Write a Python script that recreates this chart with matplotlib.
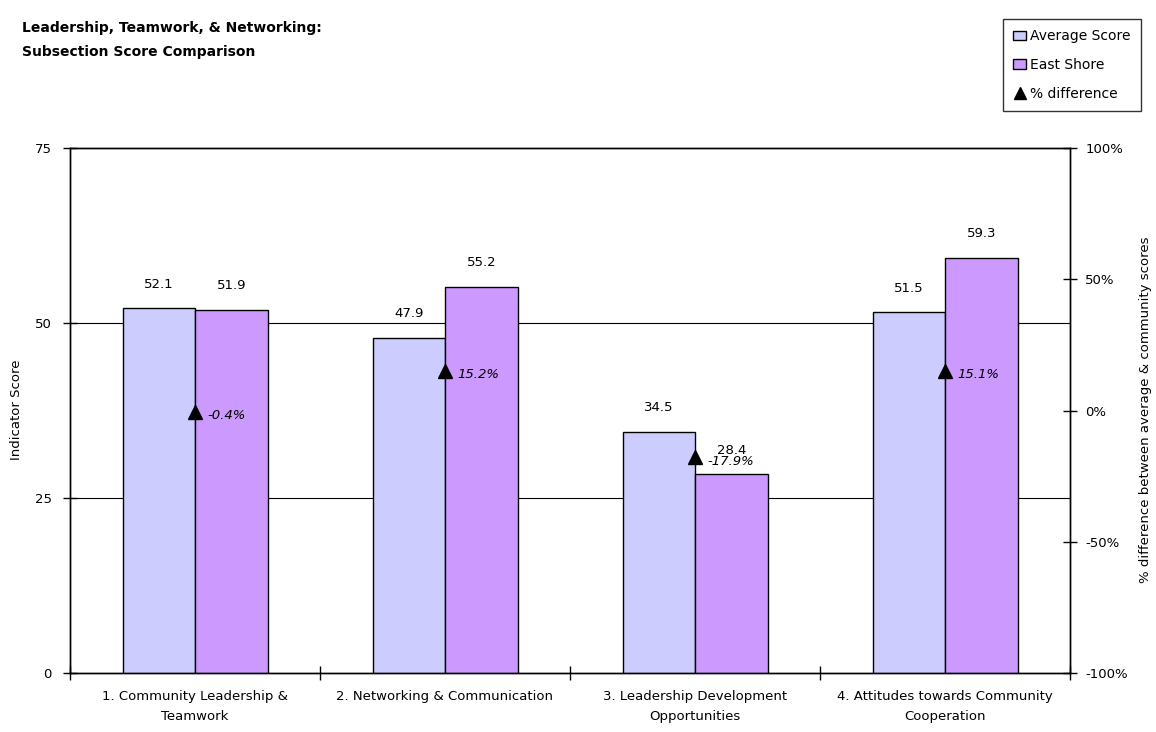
import numpy as np
import matplotlib.pyplot as plt
from matplotlib.patches import Patch
from matplotlib.lines import Line2D

categories = ['1. Community Leadership &\nTeamwork', '2. Networking & Communication',
              '3. Leadership Development\nOpportunities', '4. Attitudes towards Community\nCooperation']
average_score = [52.1, 47.9, 34.5, 51.5]
east_shore = [51.9, 55.2, 28.4, 59.3]
pct_diff = [-0.4, 15.2, -17.9, 15.1]

plt.rcParams['font.family'] = 'DejaVu Sans'
plt.rcParams['font.size'] = 9

fig = plt.figure(figsize=(11.56, 7.32), dpi=100)
ax = fig.add_axes([70 / 1156, 1 - 673 / 732, 1000 / 1156, 525 / 732])

x = np.arange(len(categories))
w = 0.29
avg_color = '#CCCCFF'
es_color = '#CC99FF'

ax.bar(x - w / 2, average_score, w, color=avg_color, edgecolor='black', linewidth=1, zorder=3)
ax.bar(x + w / 2, east_shore, w, color=es_color, edgecolor='black', linewidth=1, zorder=3)

for i in range(len(categories)):
    ax.text(x[i] - w / 2, average_score[i] + 2.5, f'{average_score[i]:.1f}', ha='center', va='bottom', fontsize=9.5, zorder=5)
    ax.text(x[i] + w / 2, east_shore[i] + 2.5, f'{east_shore[i]:.1f}', ha='center', va='bottom', fontsize=9.5, zorder=5)

ax.set_xlim(-0.5, 3.5)
ax.set_ylim(0, 75)
ax.set_yticks([0, 25, 50, 75])
ax.set_xticks([-0.5, 0.5, 1.5, 2.5, 3.5])
ax.set_xticklabels([])
ax.set_xticks(x, minor=True)
ax.set_xticklabels(categories, minor=True, fontsize=9.5, linespacing=1.7)
ax.tick_params(axis='x', which='minor', length=0, pad=12)
ax.tick_params(axis='x', which='major', direction='inout', length=10, width=1)
ax.tick_params(axis='y', direction='inout', length=10, width=1, labelsize=9.5, pad=8)
for y in [25, 50]:
    ax.axhline(y, color='black', linewidth=0.8, zorder=1)
for s in ax.spines.values():
    s.set_linewidth(1)

ax2 = ax.twinx()
ax2.set_ylim(-100, 100)
ax2.set_yticks([-100, -50, 0, 50, 100])
ax2.set_yticklabels(['-100%', '-50%', '0%', '50%', '100%'])
ax2.tick_params(axis='y', direction='inout', length=10, width=1, labelsize=9.5, pad=6)
ax2.plot(x, pct_diff, linestyle='none', marker='^', color='black', markersize=10, zorder=6)
for i in range(len(categories)):
    ax2.text(x[i] + 0.05, pct_diff[i] - 1.5, f'{pct_diff[i]:.1f}%', style='italic', ha='left', va='center', fontsize=9.5, zorder=7)
for s in ax2.spines.values():
    s.set_linewidth(1)

# axis titles placed directly so they stay inside the canvas
fig.text(17 / 1156, 1 - 410 / 732, 'Indicator Score', rotation=90, ha='center', va='center', fontsize=9.5)
fig.text(1146 / 1156, 1 - 410 / 732, '% difference between average & community scores',
         rotation=90, ha='center', va='center', fontsize=9.5)

fig.text(22 / 1156, 1 - 40 / 732, 'Leadership, Teamwork, & Networking:\nSubsection Score Comparison',
         fontsize=10, fontweight='bold', ha='left', va='center', linespacing=1.9)

handles = [Patch(facecolor=avg_color, edgecolor='black', label='Average Score'),
           Patch(facecolor=es_color, edgecolor='black', label='East Shore'),
           Line2D([0], [0], marker='^', color='black', linestyle='none', markersize=9, label='% difference')]
leg = fig.legend(handles=handles, loc='upper right', bbox_to_anchor=(1148 / 1156, 1 - 12 / 732),
                 frameon=True, fancybox=False, edgecolor='black', fontsize=10,
                 handlelength=0.9, handletextpad=0.3, labelspacing=1.05, borderpad=0.75)
leg.get_frame().set_linewidth(1)

plt.savefig('out.png', dpi=100)
